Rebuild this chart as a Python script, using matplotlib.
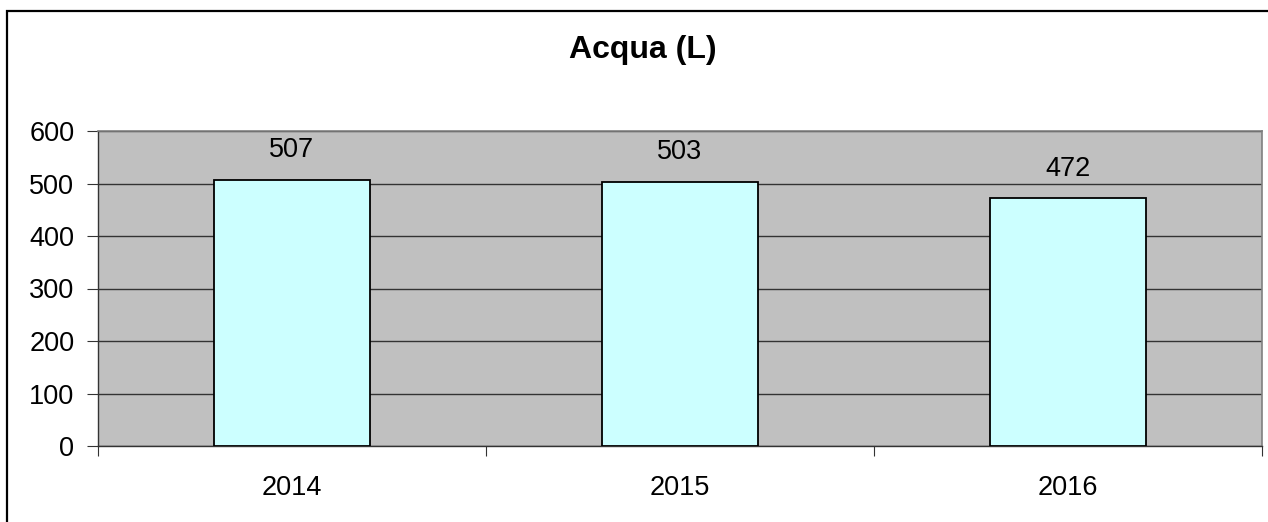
import matplotlib.pyplot as plt
from matplotlib.patches import Rectangle
import numpy as np

plt.rcParams["font.family"] = ["Liberation Sans", "DejaVu Sans"]

years = ["2014", "2015", "2016"]
acqua = [507, 503, 472]
yticks = [0, 100, 200, 300, 400, 500, 600]

W, H = 1268, 522
fig = plt.figure(figsize=(W / 100, H / 100), dpi=100)
ax = fig.add_axes([98 / W, 1 - 446 / H, (1262 - 98) / W, (446 - 131) / H])

x = np.arange(len(years))
bars = ax.bar(x, acqua, width=0.4, color="#CCFFFF", edgecolor="black", linewidth=1.3, zorder=3)
for b, v in zip(bars, acqua):
    ax.annotate(str(v), (b.get_x() + b.get_width() / 2, v), xytext=(0, 12),
                textcoords="offset points", ha="center", va="bottom", fontsize=19.5)

ax.set_facecolor("#C0C0C0")
ax.set_xlim(-0.5, len(years) - 0.5)
ax.set_ylim(0, 600)
ax.set_yticks(yticks)
ax.grid(axis="y", color="#333333", linewidth=1.0, zorder=1)
ax.set_axisbelow(True)

# category separators as ticks on the x axis
ax.set_xticks(np.arange(len(years) + 1) - 0.5)
ax.set_xticklabels([])
ax.set_xticks(x, minor=True)
ax.set_xticklabels(years, minor=True, fontsize=19.5)
ax.tick_params(axis="x", which="major", length=7, direction="out", color="#333333")
ax.tick_params(axis="x", which="minor", length=0, pad=21)
ax.tick_params(axis="y", length=8, direction="out", color="#333333", labelsize=19.5, pad=9)

for s in ["top", "right"]:
    ax.spines[s].set_color("#808080")
    ax.spines[s].set_linewidth(1.2)
for s in ["left", "bottom"]:
    ax.spines[s].set_color("#333333")
    ax.spines[s].set_linewidth(1.0)

fig.text(643 / W, 1 - 50 / H, "Acqua (L)", ha="center", va="center",
         fontsize=23, fontweight="bold")

fig.patches.append(Rectangle((7 / W, -0.1), 1.2, 1 - 11 / H + 0.1, transform=fig.transFigure,
                             fill=False, edgecolor="black", linewidth=1.6))

fig.savefig("out.png", dpi=100)
